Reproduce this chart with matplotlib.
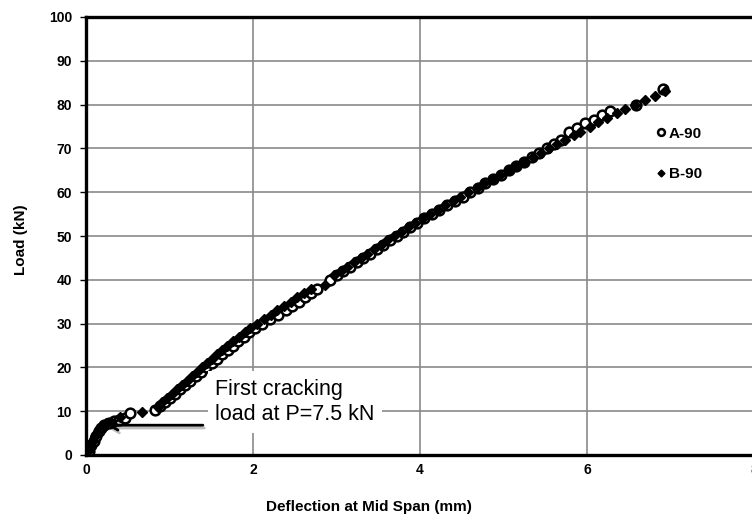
# -*- coding: utf-8 -*-

import matplotlib
matplotlib.use("Agg")
import matplotlib.pyplot as plt
import matplotlib.patheffects as pe

plt.rcParams['font.family'] = ['Liberation Sans', 'DejaVu Sans']

# A-90 (open circles) : deflection (mm), load (kN)
defl_A = [0.00, 0.03, 0.06, 0.09, 0.12, 0.15, 0.18, 0.22, 0.27, 0.33, 0.40, 0.47, 0.53,
          0.83, 0.89, 0.95, 1.00, 1.06, 1.13, 1.19, 1.25, 1.32, 1.38, 1.44, 1.51, 1.57,
          1.63, 1.70, 1.76, 1.82, 1.89, 1.95, 2.02, 2.11, 2.20, 2.30, 2.39, 2.47, 2.55,
          2.62, 2.70, 2.77, 2.92, 3.00, 3.08, 3.16, 3.24, 3.32, 3.40, 3.48, 3.56, 3.64,
          3.72, 3.80, 3.88, 3.96, 4.05, 4.14, 4.23, 4.32, 4.42, 4.51, 4.60, 4.69, 4.78,
          4.87, 4.97, 5.06, 5.15, 5.24, 5.34, 5.43, 5.52, 5.61, 5.69, 5.78, 5.88, 5.98,
          6.08, 6.18, 6.28, 6.59, 6.91]
load_A = [0.0, 1.0, 2.2, 3.3, 4.4, 5.4, 6.2, 6.8, 7.3, 7.7, 8.0, 8.4, 9.5,
          10.3, 11.2, 12.1, 13.0, 14.0, 15.0, 16.0, 17.0, 18.0, 19.0, 20.0, 21.0, 22.0,
          23.0, 24.0, 25.0, 26.0, 27.0, 28.0, 29.0, 30.0, 31.0, 32.0, 33.0, 34.0, 35.0,
          36.0, 37.0, 38.0, 40.0, 41.0, 42.0, 43.0, 44.0, 45.0, 46.0, 47.0, 48.0, 49.0,
          50.0, 51.0, 52.0, 53.0, 54.0, 55.0, 56.0, 57.0, 58.0, 59.0, 60.0, 61.0, 62.0,
          63.0, 64.0, 65.0, 66.0, 67.0, 68.0, 69.0, 70.0, 71.0, 72.0, 73.8, 74.6, 75.7,
          76.5, 77.6, 78.6, 79.8, 83.5]

# B-90 (filled diamonds)
defl_B = [0.00, 0.02, 0.05, 0.08, 0.11, 0.14, 0.17, 0.20, 0.24, 0.30, 0.41, 0.67,
          0.86, 0.91, 0.97, 1.03, 1.09, 1.15, 1.21, 1.27, 1.33, 1.39, 1.45, 1.51, 1.57,
          1.63, 1.69, 1.76, 1.83, 1.90, 1.97, 2.05, 2.13, 2.21, 2.29, 2.37, 2.45, 2.53,
          2.61, 2.69, 2.86, 2.97, 3.05, 3.13, 3.21, 3.29, 3.37, 3.45, 3.53, 3.61, 3.69,
          3.77, 3.86, 3.94, 4.03, 4.12, 4.21, 4.30, 4.39, 4.48, 4.58, 4.68, 4.77, 4.87,
          4.96, 5.06, 5.15, 5.25, 5.35, 5.45, 5.55, 5.64, 5.74, 5.84, 5.92, 6.04, 6.13,
          6.24, 6.36, 6.46, 6.57, 6.69, 6.81, 6.93]
load_B = [0.0, 0.8, 2.0, 3.2, 4.4, 5.4, 6.2, 6.8, 7.2, 7.6, 8.7, 9.9,
          11.0, 12.0, 13.0, 14.0, 15.0, 16.0, 17.0, 18.0, 19.0, 20.0, 21.0, 22.0, 23.0,
          24.0, 25.0, 26.0, 27.0, 28.0, 29.0, 30.0, 31.0, 32.0, 33.0, 34.0, 35.0, 36.0,
          37.0, 38.0, 38.8, 41.0, 42.0, 43.0, 44.0, 45.0, 46.0, 47.0, 48.0, 49.0, 50.0,
          51.0, 52.0, 53.0, 54.0, 55.0, 56.0, 57.0, 58.0, 59.0, 60.0, 61.0, 62.0, 63.0,
          64.0, 65.0, 66.0, 67.0, 68.0, 69.0, 70.0, 71.0, 72.0, 73.0, 73.8, 75.0, 76.1,
          76.9, 78.0, 78.9, 79.9, 81.0, 82.0, 83.0]

xticks = [0, 2, 4, 6, 8]
yticks = list(range(0, 101, 10))

fig = plt.figure(figsize=(7.52, 5.18), dpi=100)
ax = fig.add_axes([86/752, 1 - 455/518, (754 - 86)/752, (455 - 17)/518])

ax.plot(defl_A, load_A, linestyle='none', marker='o', ms=7, mfc='white',
        mec='black', mew=1.8, label='A-90', zorder=3)
ax.plot(defl_B, load_B, linestyle='none', marker='D', ms=5, color='black',
        label='B-90', zorder=4)

ax.set_xlim(0, 8)
ax.set_ylim(0, 100)
ax.set_xticks(xticks)
ax.set_yticks(yticks)
ax.grid(True, color='#8a8a8a', lw=1.2, zorder=0)
ax.set_axisbelow(True)

for s in ax.spines.values():
    s.set_linewidth(2.4)
    s.set_color('black')

ax.tick_params(axis='y', length=4, width=1, pad=6, labelsize=10)
ax.tick_params(axis='x', length=0, pad=6, labelsize=10)
for lab in ax.get_xticklabels() + ax.get_yticklabels():
    lab.set_fontweight('bold')

fig.text(21/752, 1 - 240/518, 'Load (kN)', rotation=90, ha='center', va='center',
         fontsize=11, fontweight='bold')
fig.text(266/752, 1 - 507/518, 'Deflection at Mid Span (mm)', ha='left', va='center',
         fontsize=11, fontweight='bold')

# legend
leg = ax.legend(loc='upper left',
                bbox_to_anchor=((643 - 86)/668, 1 - (113 - 17)/438),
                frameon=False, handlelength=0.5, handletextpad=0.3,
                labelspacing=1.72, markerscale=0.7,
                prop={'weight': 'bold', 'size': 11})

# annotation
ax.text(1.55, 12.1, 'First cracking\nload at P=7.5 kN', fontsize=15.5, ha='left',
        va='center', linespacing=1.25,
        bbox=dict(boxstyle='square,pad=0.35', fc='white', ec='none'), zorder=5)
ax.annotate('', xy=(0.25, 6.8), xytext=(1.40, 6.8),
            arrowprops=dict(arrowstyle='->,head_length=0.6,head_width=0.35', lw=2,
                            color='black', shrinkA=0, shrinkB=0,
                            path_effects=[pe.SimpleLineShadow(offset=(1, -2), alpha=0.25),
                                          pe.Normal()]),
            zorder=6)

plt.savefig('out.png', dpi=100)
